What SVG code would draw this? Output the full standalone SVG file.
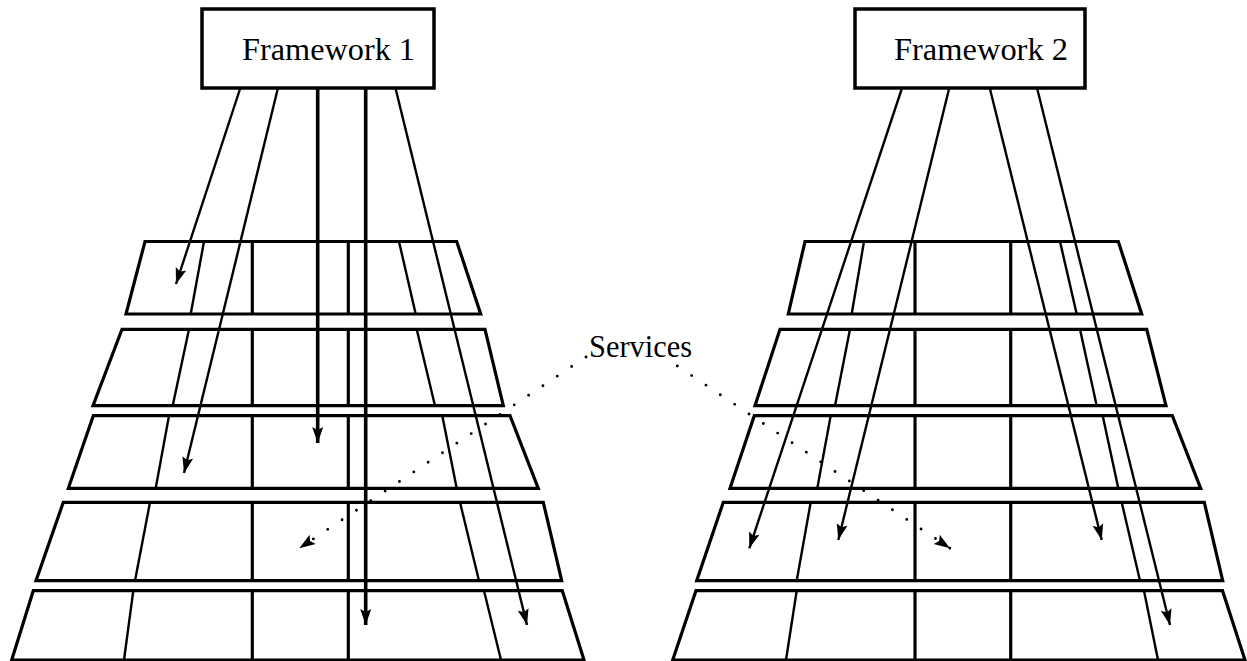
<svg xmlns="http://www.w3.org/2000/svg" width="1247" height="661" viewBox="0 0 1247 661">
<style>
.bg{fill:#fff}
.box{fill:#fff;stroke:#000;stroke-width:3.5}
.layer{fill:none;stroke:#000;stroke-width:3.2;stroke-linejoin:miter}
.col{stroke:#000;stroke-width:3.2}
.grid{stroke:#000;stroke-width:2.4}
.arr{fill:none;stroke:#000;stroke-width:2.4;marker-end:url(#ah)}
.thick{stroke-width:3.6}
.dot{fill:none;stroke:#000;stroke-width:2.9;stroke-linecap:round;stroke-dasharray:0 17.25;marker-end:url(#ah)}
text{font-family:"Liberation Serif","DejaVu Serif",serif;font-size:31px;fill:#000}
</style>
<defs>
<marker id="ah" markerUnits="userSpaceOnUse" markerWidth="22" markerHeight="16" refX="0" refY="0" viewBox="-18 -8 20 16" orient="auto">
<path d="M0,0 L-16,-5.5 L-13,0 L-16,5.5 Z" fill="#000"/>
</marker>
</defs>
<rect class="bg" x="0" y="0" width="1247" height="661"/>

<g id="stack1">
<polygon class="layer" points="145,241.5 456.7,241.5 480.7,314 126,314"/>
<polygon class="layer" points="122,329.3 485,329.3 503.3,405.7 93,405.7"/>
<polygon class="layer" points="93.3,415.7 510,415.7 538.3,488.3 68.3,488.3"/>
<polygon class="layer" points="63.3,502.3 543.3,502.3 561.7,580.7 36,580.7"/>
<polygon class="layer" points="33.3,590.7 562.3,590.7 584,660 11.7,660"/>
<line class="col" x1="252.3" y1="241.5" x2="252.3" y2="314"/>
<line class="col" x1="348.3" y1="241.5" x2="348.3" y2="314"/>
<line class="col" x1="252.3" y1="329.3" x2="252.3" y2="405.7"/>
<line class="col" x1="348.3" y1="329.3" x2="348.3" y2="405.7"/>
<line class="col" x1="252.3" y1="415.7" x2="252.3" y2="488.3"/>
<line class="col" x1="348.3" y1="415.7" x2="348.3" y2="488.3"/>
<line class="col" x1="252.3" y1="502.3" x2="252.3" y2="580.7"/>
<line class="col" x1="348.3" y1="502.3" x2="348.3" y2="580.7"/>
<line class="col" x1="252.3" y1="590.7" x2="252.3" y2="660"/>
<line class="col" x1="348.3" y1="590.7" x2="348.3" y2="660"/>
<line class="grid" x1="204" y1="241.5" x2="190.7" y2="314"/>
<line class="grid" x1="189" y1="329.3" x2="172.7" y2="405.7"/>
<line class="grid" x1="169" y1="415.7" x2="155.7" y2="488.3"/>
<line class="grid" x1="150" y1="502.3" x2="135" y2="580.7"/>
<line class="grid" x1="133.3" y1="590.7" x2="124" y2="660"/>
<line class="grid" x1="399" y1="241.5" x2="415.7" y2="314"/>
<line class="grid" x1="416.7" y1="329.3" x2="435" y2="405.7"/>
<line class="grid" x1="442.3" y1="415.7" x2="456.7" y2="488.3"/>
<line class="grid" x1="460" y1="502.3" x2="479" y2="580.7"/>
<line class="grid" x1="484" y1="590.7" x2="501" y2="660"/>
</g>

<g id="stack2">
<polygon class="layer" points="805,241.5 1118.3,241.5 1141.7,314 788.3,314"/>
<polygon class="layer" points="780,329.3 1146.7,329.3 1166,405.7 755,405.7"/>
<polygon class="layer" points="754.3,415.7 1172.3,415.7 1200.7,488.3 730,488.3"/>
<polygon class="layer" points="723.3,502.3 1204.3,502.3 1222.7,580.7 696.7,580.7"/>
<polygon class="layer" points="696,590.7 1222.5,590.7 1245,660 672.7,660"/>
<line class="col" x1="915" y1="241.5" x2="915" y2="314"/>
<line class="col" x1="1010.7" y1="241.5" x2="1010.7" y2="314"/>
<line class="col" x1="915" y1="329.3" x2="915" y2="405.7"/>
<line class="col" x1="1010.7" y1="329.3" x2="1010.7" y2="405.7"/>
<line class="col" x1="915" y1="415.7" x2="915" y2="488.3"/>
<line class="col" x1="1010.7" y1="415.7" x2="1010.7" y2="488.3"/>
<line class="col" x1="915" y1="502.3" x2="915" y2="580.7"/>
<line class="col" x1="1010.7" y1="502.3" x2="1010.7" y2="580.7"/>
<line class="col" x1="915" y1="590.7" x2="915" y2="660"/>
<line class="col" x1="1010.7" y1="590.7" x2="1010.7" y2="660"/>
<line class="grid" x1="864" y1="241.5" x2="851.7" y2="314"/>
<line class="grid" x1="850" y1="329.3" x2="835" y2="405.7"/>
<line class="grid" x1="830.7" y1="415.7" x2="817.3" y2="488.3"/>
<line class="grid" x1="810.7" y1="502.3" x2="796.7" y2="580.7"/>
<line class="grid" x1="796.7" y1="590.7" x2="786" y2="660"/>
<line class="grid" x1="1060" y1="241.5" x2="1076.7" y2="314"/>
<line class="grid" x1="1080" y1="329.3" x2="1096.7" y2="405.7"/>
<line class="grid" x1="1102.7" y1="415.7" x2="1118.3" y2="488.3"/>
<line class="grid" x1="1121.7" y1="502.3" x2="1140" y2="580.7"/>
<line class="grid" x1="1144" y1="590.7" x2="1158" y2="660"/>
</g>

<g id="framework1">
<rect class="box" x="202" y="9" width="232" height="79"/>
<text x="242" y="60" textLength="173" lengthAdjust="spacingAndGlyphs">Framework 1</text>
</g>

<g id="framework2">
<rect class="box" x="855" y="9" width="230" height="79"/>
<text x="894" y="60" textLength="174" lengthAdjust="spacingAndGlyphs">Framework 2</text>
</g>

<g id="services">
<text x="589" y="357" textLength="103" lengthAdjust="spacingAndGlyphs">Services</text>
</g>

<g id="connectors">
<line class="arr" x1="240" y1="89" x2="176" y2="284"/>
<line class="arr" x1="277.7" y1="89" x2="184" y2="473"/>
<line class="arr thick" x1="317.7" y1="89" x2="317.7" y2="443"/>
<line class="arr thick" x1="365.7" y1="89" x2="365.7" y2="625"/>
<line class="arr" x1="395.7" y1="89" x2="527" y2="625"/>
<line class="arr" x1="901.7" y1="89" x2="749.3" y2="548.3"/>
<line class="arr" x1="949" y1="89" x2="838.3" y2="540"/>
<line class="arr" x1="990" y1="89" x2="1101.7" y2="540"/>
<line class="arr" x1="1037.3" y1="89" x2="1170" y2="625"/>
<line class="dot" x1="586" y1="357" x2="299.3" y2="548.3"/>
<line class="dot" x1="677.3" y1="366" x2="950" y2="548.3"/>
</g>
</svg>
